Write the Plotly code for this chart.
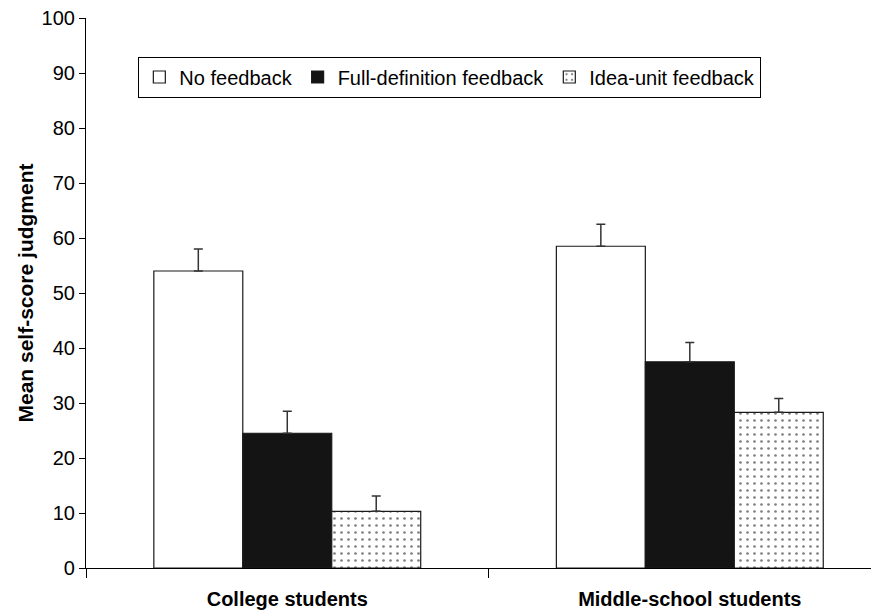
import plotly.graph_objects as go

categories = ["College students", "Middle-school students"]
series_names = ["No feedback", "Full-definition feedback", "Idea-unit feedback"]
no_feedback = [54.0, 58.5]
full_def = [24.5, 37.5]
idea_unit = [10.3, 28.3]
err_no = [4.0, 4.0]
err_full = [4.0, 3.5]
err_idea = [2.8, 2.5]
y_ticks = [0, 10, 20, 30, 40, 50, 60, 70, 80, 90, 100]

font_fam = "Liberation Sans, Arial, sans-serif"

def err(a):
    return dict(type="data", array=a, arrayminus=[0] * len(a), symmetric=False,
                color="#333333", thickness=1.5, width=4.5)

fig = go.Figure()
fig.add_trace(go.Bar(x=categories, y=no_feedback, name=series_names[0],
                     marker=dict(color="white", line=dict(color="#1a1a1a", width=1.2)),
                     error_y=err(err_no)))
fig.add_trace(go.Bar(x=categories, y=full_def, name=series_names[1],
                     marker=dict(color="#141414", line=dict(color="#1a1a1a", width=1.2)),
                     error_y=err(err_full)))
fig.add_trace(go.Bar(x=categories, y=idea_unit, name=series_names[2],
                     marker=dict(color="white", line=dict(color="#1a1a1a", width=1.2),
                                 pattern=dict(shape=".", fgcolor="black", bgcolor="white",
                                              size=7, solidity=0.12)),
                     error_y=err(err_idea)))

# page body has an 8px default margin, so the figure is sized to fit inside the window
fig.update_layout(
    width=871, height=603,
    margin=dict(l=78, r=0, t=10, b=43),
    paper_bgcolor="white", plot_bgcolor="white",
    barmode="group", bargap=0.337, bargroupgap=0,
    font=dict(family=font_fam, size=20, color="black"),
    showlegend=True,
    legend=dict(orientation="h", x=0.066, y=0.93, xanchor="left", yanchor="top",
                bordercolor="black", borderwidth=1, bgcolor="white",
                font=dict(size=20), itemwidth=30, tracegroupgap=0),
    xaxis=dict(range=[-0.5, 1.47], showline=True, linecolor="black", linewidth=1.2,
               ticks="outside", tickson="boundaries", ticklen=9, tickcolor="black",
               tickfont=dict(size=20, family=font_fam, weight="bold"),
               ticklabelstandoff=13, showgrid=False, zeroline=False, automargin=False),
    yaxis=dict(range=[0, 100], tickvals=y_ticks, showline=True, linecolor="black",
               linewidth=1.2, ticks="outside", ticklen=6, tickcolor="black",
               tickfont=dict(size=20), showgrid=False, zeroline=False, automargin=False,
               ticklabeloverflow="allow",
               title=dict(text="<b>Mean self-score judgment</b>", font=dict(size=21),
                          standoff=2)),
)

fig.write_html("out.html")
